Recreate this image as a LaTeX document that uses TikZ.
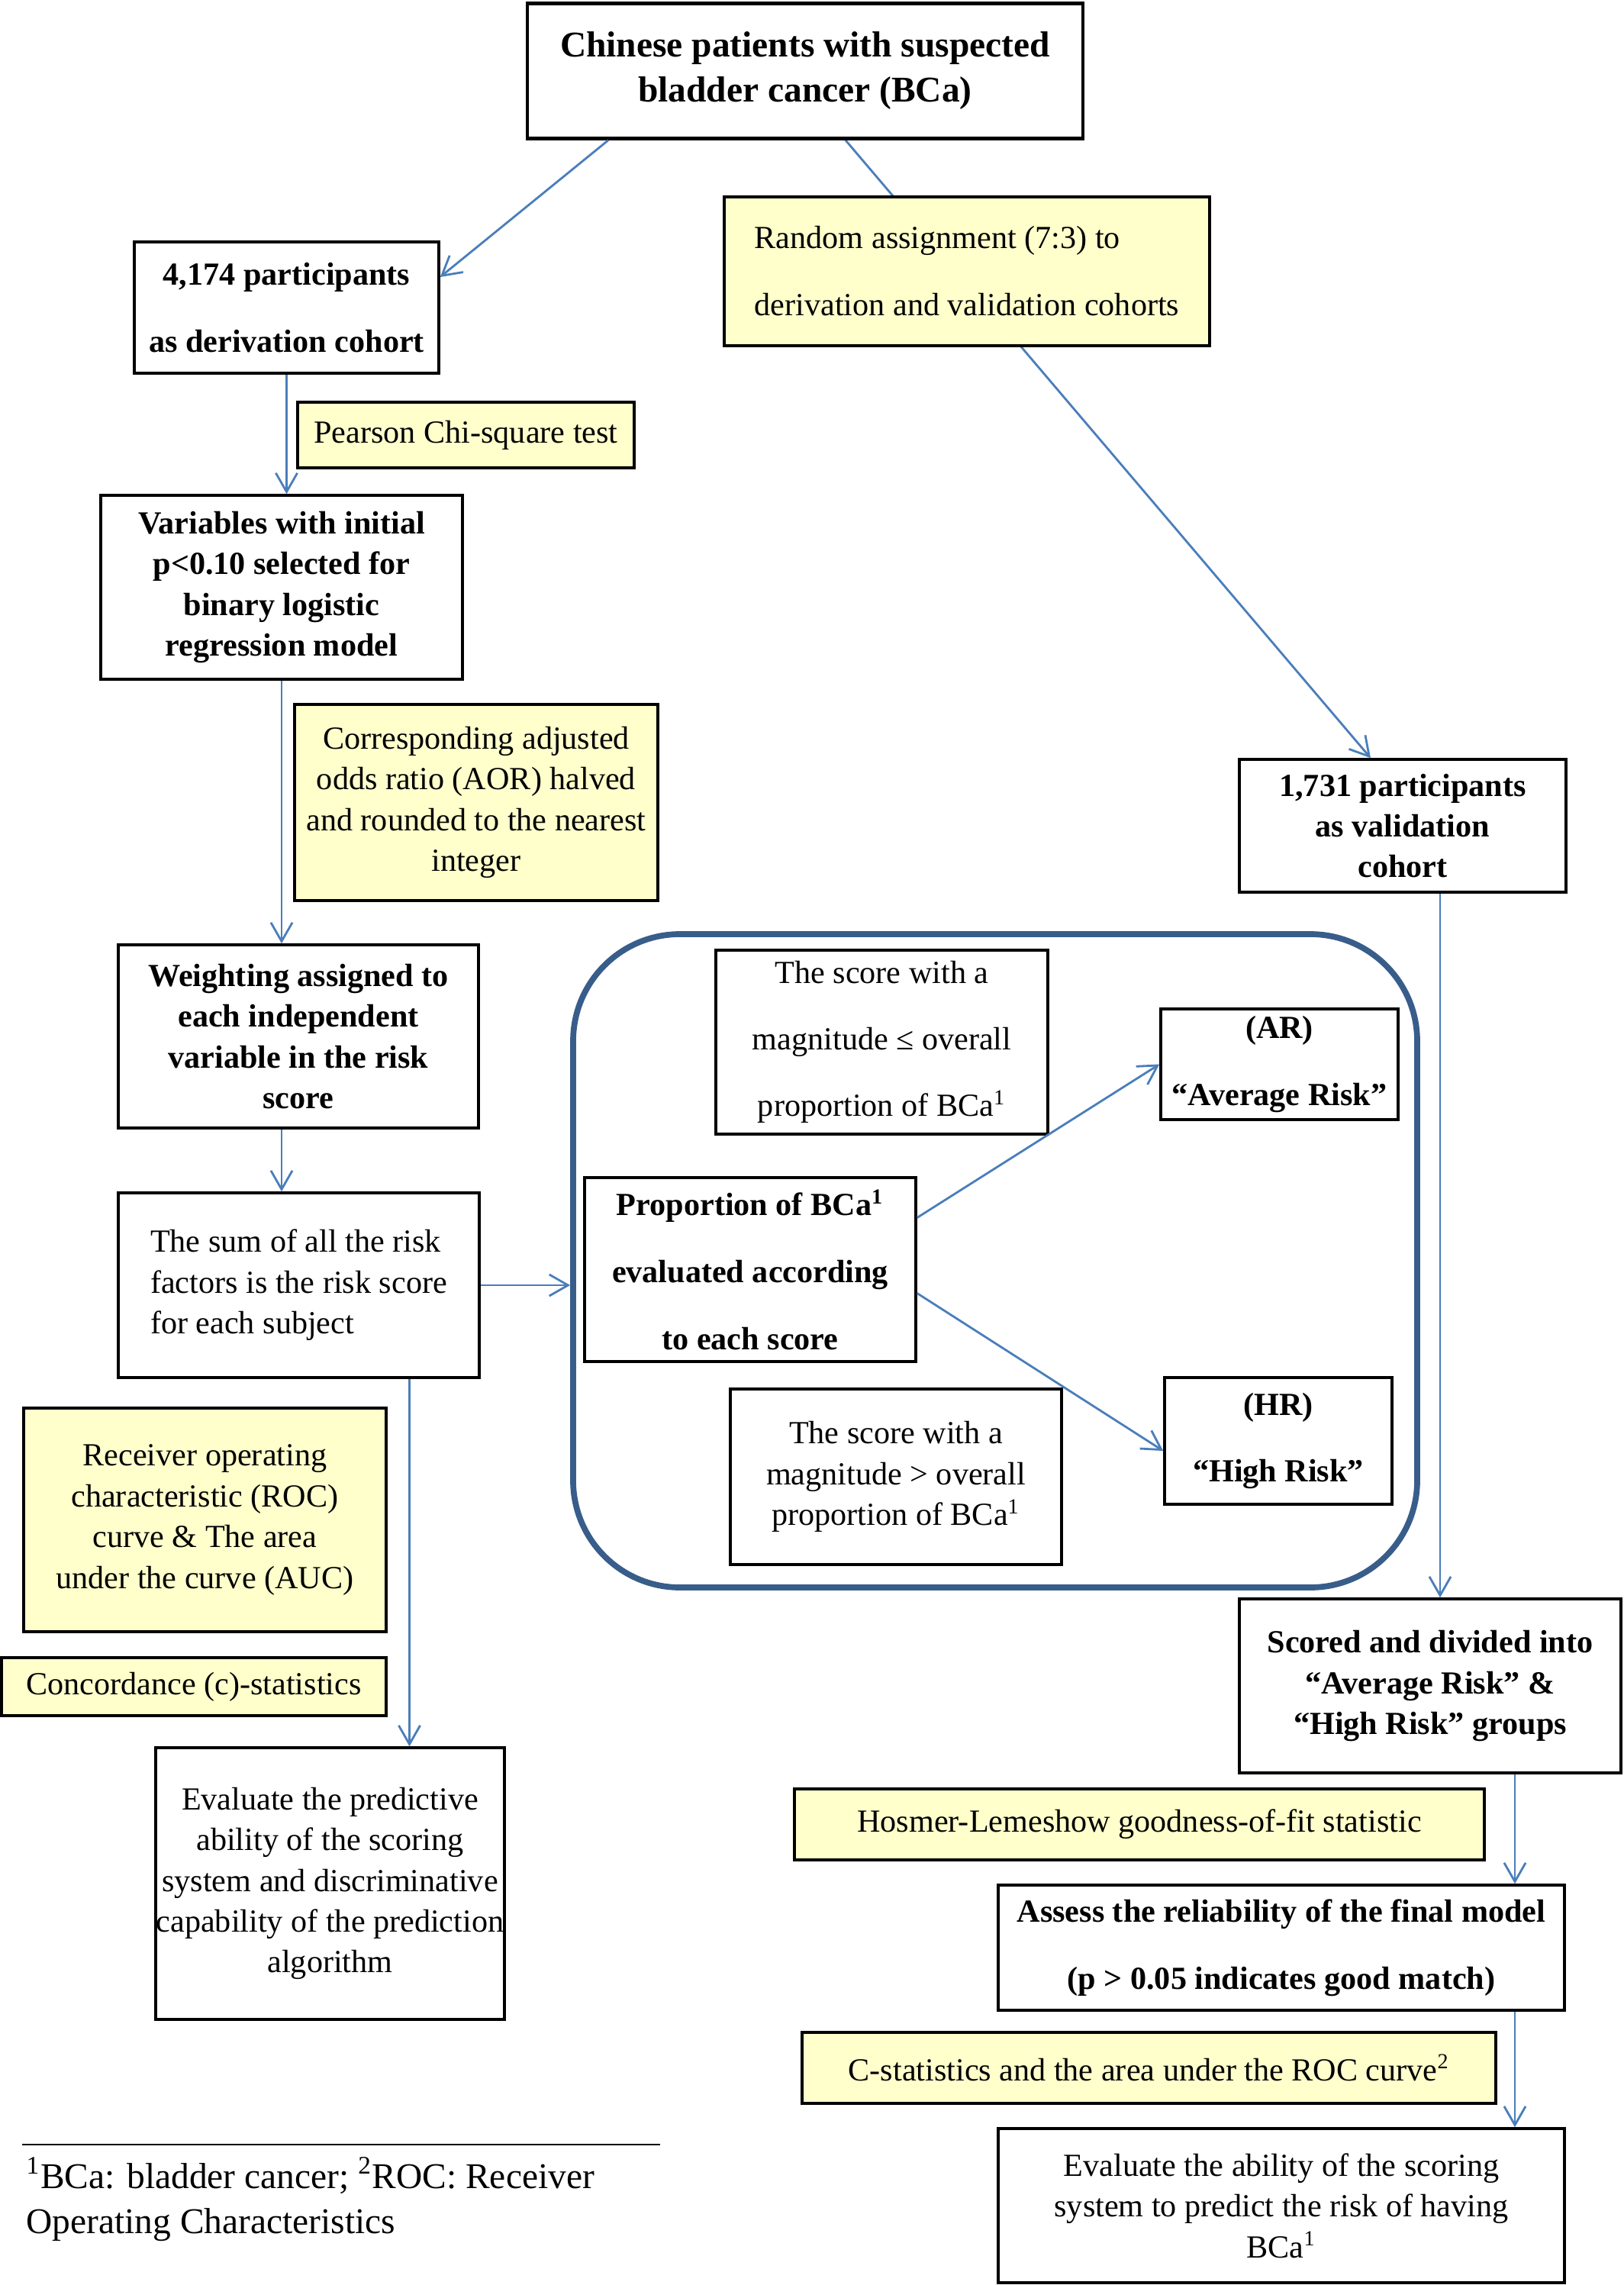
\documentclass[tikz,border=0pt]{standalone}
\usepackage{fontspec}
\setmainfont{Liberation Serif}
\usetikzlibrary{arrows.meta,backgrounds}

\definecolor{noteyellow}{RGB}{255,255,204}
\definecolor{linkblue}{RGB}{74,126,187}
\definecolor{panelblue}{RGB}{56,93,138}

\begin{document}
\begin{tikzpicture}[
  plainbox/.style={draw, line width=1pt, fill=white, align=center, inner sep=0pt, font=\fontsize{12}{#1}\selectfont},
  plainbox/.default=15.2pt,
  boldbox/.style={plainbox, font=\bfseries\fontsize{12}{#1}\selectfont},
  boldbox/.default=15.2pt,
  notebox/.style={plainbox=#1, fill=noteyellow},
  notebox/.default=15.2pt,
  sized/.style 2 args={minimum width=#1cm, minimum height=#2cm},
  link/.style={draw=linkblue, line width=0.8pt, -{Straight Barb[length=7pt,width=8pt]}}
]
% Page of the figure
\useasboundingbox (0,0) rectangle (21.28,-29.94);

% Risk grouping panel
\node[draw=panelblue, line width=2.2pt, rounded corners=1.4cm, sized={11.06}{8.56}] (panel) at (13.04,-16.52) {};

% Start and the two cohorts
\node[boldbox, line width=1.3pt, font=\bfseries\fontsize{13.5}{16.8}\selectfont, sized={7.28}{1.77}] (top) at (10.55,-0.93) {Chinese patients with suspected\\bladder cancer (BCa)};
\node[boldbox=25pt, sized={3.99}{1.72}] (deriv) at (3.755,-4.03) {4,174 participants\\as derivation cohort};
\node[notebox=25pt, align=left, sized={6.36}{1.95}] (random) at (12.67,-3.555) {Random assignment (7:3) to\\derivation and validation cohorts};
\node[boldbox, sized={4.28}{1.74}] (valid) at (18.38,-10.82) {1,731 participants\\as validation\\cohort};

% Derivation steps
\node[notebox, sized={4.41}{0.86}] (pearson) at (6.105,-5.70) {Pearson Chi-square test};
\node[boldbox, sized={4.74}{2.41}] (vars) at (3.69,-7.695) {Variables with initial\\p<0.10 selected for\\binary logistic\\regression model};
\node[notebox, sized={4.76}{2.57}] (aor) at (6.24,-10.515) {Corresponding adjusted\\odds ratio (AOR) halved\\and rounded to the nearest\\integer};
\node[boldbox, sized={4.72}{2.40}] (weight) at (3.91,-13.58) {Weighting assigned to\\each independent\\variable in the risk\\score};
\node[plainbox, align=left, sized={4.73}{2.42}] (sum) at (3.915,-16.84) {The sum of all the risk\\factors is the risk score\\for each subject};

% Inside the panel
\node[plainbox=24.7pt, sized={4.35}{2.41}] (lowscore) at (11.555,-13.655) {The score with a\\magnitude ≤ overall\\proportion of BCa\textsuperscript{1}};
\node[boldbox=25pt, sized={3.11}{1.45}] (ar) at (16.765,-13.945) {(AR)\\“Average Risk”};
\node[boldbox=25pt, sized={4.34}{2.41}] (prop) at (9.83,-16.635) {Proportion of BCa\textsuperscript{1}\\evaluated according\\to each score};
\node[boldbox=25pt, sized={2.98}{1.66}] (hr) at (16.75,-18.88) {(HR)\\“High Risk”};
\node[plainbox, sized={4.34}{2.30}] (highscore) at (11.74,-19.35) {The score with a\\magnitude > overall\\proportion of BCa\textsuperscript{1}};

% Evaluation of the derivation cohort
\node[notebox, sized={4.75}{2.93}] (roc) at (2.685,-19.915) {Receiver operating\\characteristic (ROC)\\curve \& The area\\under the curve (AUC)};
\node[notebox, align=left, sized={5.04}{0.76}] (conc) at (2.54,-22.10) {Concordance (c)-statistics};
\node[plainbox, sized={4.57}{3.56}] (evalp) at (4.325,-24.68) {Evaluate the predictive\\ability of the scoring\\system and discriminative\\capability of the prediction\\algorithm};

% Validation steps
\node[boldbox, sized={5.00}{2.28}] (scored) at (18.74,-22.09) {Scored and divided into\\“Average Risk” \&\\“High Risk” groups};
\node[notebox, sized={9.04}{0.93}] (hosmer) at (14.93,-23.905) {Hosmer-Lemeshow goodness-of-fit statistic};
\node[boldbox=25pt, sized={7.42}{1.64}] (assess) at (16.79,-25.52) {Assess the reliability of the final model\\(p > 0.05 indicates good match)};
\node[notebox, sized={9.09}{0.93}] (cstat) at (15.055,-27.095) {C-statistics and the area under the ROC curve\textsuperscript{2}};
\node[plainbox, sized={7.42}{2.02}] (evala) at (16.79,-28.90) {Evaluate the ability of the scoring\\system to predict the risk of having\\BCa\textsuperscript{1}};

% Footnote
\draw[line width=0.5pt] (0.29,-28.10) -- (8.65,-28.10);
\node[anchor=north west, align=left, inner sep=0pt, font=\fontsize{13.5}{16.8}\selectfont] (foot) at (0.34,-28.26) {\textsuperscript{1}BCa: bladder cancer; \textsuperscript{2}ROC: Receiver\\Operating Characteristics};

% Arrows
\begin{pgfonlayer}{background}
\draw[link] ([xshift=0.53cm]top.south) -- ([xshift=-0.42cm]valid.north);
\end{pgfonlayer}
\draw[link] ([xshift=-2.58cm]top.south) -- ([yshift=0.4cm]deriv.east);
\draw[link] (deriv.south) -- (deriv.south |- vars.north);
\draw[link] (vars.south) -- (vars.south |- weight.north);
\draw[link] (weight.south -| vars.south) -- (vars.south |- sum.north);
\draw[link] (sum.east) -- (sum.east -| panel.west);
\draw[link] ([xshift=1.45cm]sum.south) -- ([xshift=1.45cm]sum.south |- evalp.north);
\draw[link] ([yshift=0.68cm]prop.east) -- (ar.west);
\draw[link] ([yshift=-0.31cm]prop.east) -- ([yshift=-0.13cm]hr.west);
\draw[link] ([xshift=0.49cm]valid.south) -- ([xshift=0.49cm]valid.south |- scored.north);
\draw[link] ([xshift=1.11cm]scored.south) -- ([xshift=1.11cm]scored.south |- assess.north);
\draw[link] ([xshift=1.11cm]scored.south |- assess.south) -- ([xshift=1.11cm]scored.south |- evala.north);
\end{tikzpicture}
\end{document}
